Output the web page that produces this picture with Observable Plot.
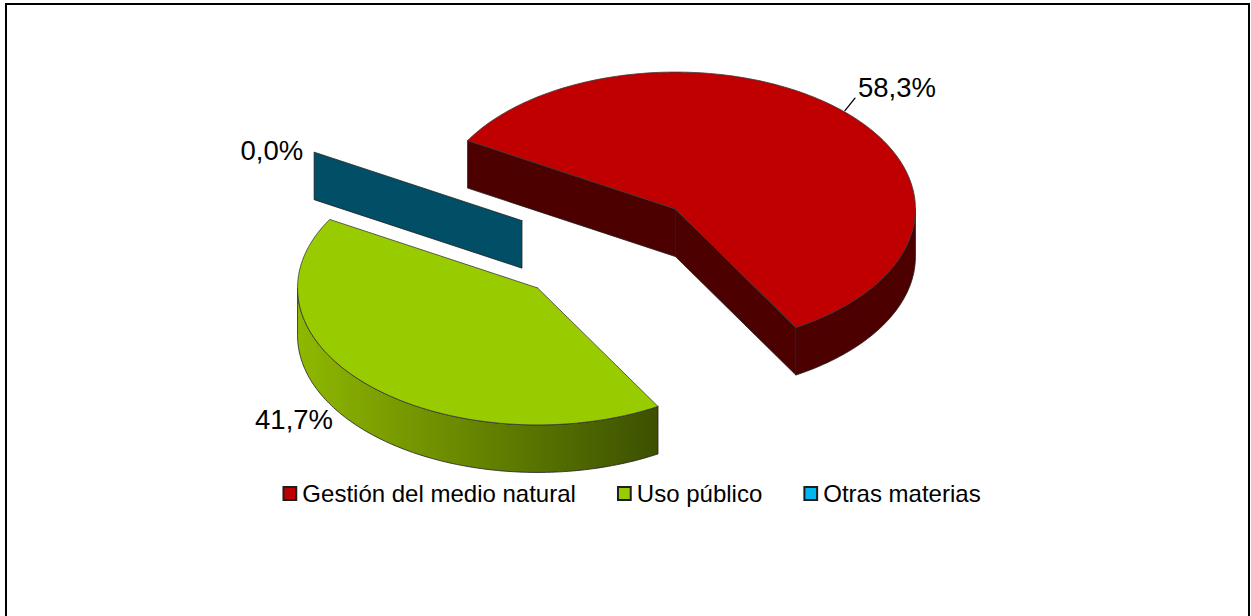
<!DOCTYPE html>
<html><head><meta charset="utf-8">
<script src="https://cdn.jsdelivr.net/npm/d3@7"></script>
<script src="https://cdn.jsdelivr.net/npm/@observablehq/plot@0.6"></script>
<style>
html,body{margin:0;padding:0;background:#fff;}
#wrap{position:relative;width:1251px;height:616px;overflow:hidden;background:#fff;}
#chart{position:absolute;left:0;top:0;}
#frame{position:absolute;left:5px;top:3px;width:1241px;height:660px;border:2px solid #000;pointer-events:none;}
</style></head><body>
<div id="wrap"><div id="chart"></div><div id="frame"></div></div>
<script>
// ---- data ----
const categories = ["Gestión del medio natural", "Uso público", "Otras materias"];
const values = [58.3, 41.7, 0.0];
const topColors = ["#c00000", "#99cc00", "#00b0f0"];
const wallShades = [["#4d0000", "#4d0000"], ["#8fb800", "#3c5000"], ["#004f66", "#004f66"]];
const legendColors = ["#c00000", "#99cc00", "#00b8f0"];

// ---- layout ----
const W = 1251, H = 616;
const cx = 606, cy = 248, R = 240, ry = 137, depth = 47.5, explode = 97.6, startAngle = 150;
const edgeColor = "#1e1e1e";
const rad = d => d * Math.PI / 180;
function proj(thetaDeg, rho, h, phiDeg) {
  const t = rad(thetaDeg), p = rad(phiDeg);
  return [cx + R * rho * Math.cos(t) + explode * Math.cos(p),
          cy - ry * rho * Math.sin(t) - explode * (ry / R) * Math.sin(p) + h];
}
function arcAngles(from, to, step = 1) {
  const n = Math.max(1, Math.ceil(Math.abs(from - to) / step));
  return d3.range(n + 1).map(k => from + (to - from) * k / n);
}

let acc = startAngle;
const slices = values.map((v, i) => {
  const span = v / 100 * 360;
  const a0 = acc, a1 = acc - span;
  acc = a1;
  return {i, a0, a1, span, phi: (a0 + a1) / 2};
});

// painter order: back (higher on screen) first
const order = slices.slice().sort((a, b) => Math.sin(rad(b.phi)) - Math.sin(rad(a.phi)));

const polyPoints = [];
let pid = 0;
function addPoly(pts, fill, stroke) {
  const id = pid++;
  pts.forEach(([x, y]) => polyPoints.push({id, x, y, fill, stroke}));
}
function frontRuns(a0, a1) {
  const runs = [];
  for (let k = -2; k <= 2; k++) {
    const lo = Math.max(a1, -180 + 360 * k), hi = Math.min(a0, 360 * k);
    if (hi - lo > 1e-6) runs.push([hi, lo]);
  }
  return runs;
}

const gradients = [];
for (const s of order) {
  const [c0, c1] = wallShades[s.i];
  const apexT = proj(0, 0, 0, s.phi), apexB = proj(0, 0, depth, s.phi);
  if (Math.sin(rad(s.a0 + 90)) < 0) {
    const pT = proj(s.a0, 1, 0, s.phi), pB = proj(s.a0, 1, depth, s.phi);
    addPoly([apexT, pT, pB, apexB, apexT], c0, edgeColor);
  }
  if (s.span > 0.01 && Math.sin(rad(s.a1 - 90)) < 0) {
    const pT = proj(s.a1, 1, 0, s.phi), pB = proj(s.a1, 1, depth, s.phi);
    addPoly([apexT, pT, pB, apexB, apexT], c0, edgeColor);
  }
  for (const [hi, lo] of frontRuns(s.a0, s.a1)) {
    const angs = arcAngles(hi, lo, 1);
    const top = angs.map(a => proj(a, 1, 0, s.phi));
    const bot = angs.map(a => proj(a, 1, depth, s.phi)).reverse();
    let fill = c0;
    if (c0 !== c1) {
      const gid = `wallGrad${s.i}_${gradients.length}`;
      gradients.push({id: gid, c0, c1});
      fill = `url(#${gid})`;
    }
    addPoly([...top, ...bot, top[0]], fill, edgeColor);
  }
  if (s.span > 0.01) {
    const arc = arcAngles(s.a0, s.a1, 1).map(a => proj(a, 1, 0, s.phi));
    addPoly([apexT, ...arc, apexT], topColors[s.i], "#3a3a3a");
  }
}

// gradient definitions (left-to-right shading of the side walls)
function gradientDefs() {
  const ns = "http://www.w3.org/2000/svg";
  const defs = document.createElementNS(ns, "defs");
  for (const g of gradients) {
    const lg = document.createElementNS(ns, "linearGradient");
    lg.setAttribute("id", g.id);
    lg.setAttribute("x1", "0"); lg.setAttribute("x2", "1");
    lg.setAttribute("y1", "0"); lg.setAttribute("y2", "0");
    [[0, g.c0], [1, g.c1]].forEach(([o, c]) => {
      const st = document.createElementNS(ns, "stop");
      st.setAttribute("offset", o);
      st.setAttribute("stop-color", c);
      lg.appendChild(st);
    });
    defs.appendChild(lg);
  }
  return defs;
}

// ---- data labels ----
const labelOffsets = [[13, -24, "start"], [-35, 35, "end"], [-11, -0.5, "end"]];
const labelRows = slices.map(s => {
  const [x, y] = proj(s.phi, 1, 0, s.phi);
  const [dx, dy, anchor] = labelOffsets[s.i];
  return {x: x + dx, y: y + dy, anchor, text: values[s.i].toFixed(1).replace(".", ",") + "%", rx: x, ry: y};
});
const leaderPts = [
  {x: labelRows[0].rx, y: labelRows[0].ry - 1.5},
  {x: labelRows[0].rx + 10, y: labelRows[0].ry - 14}
];

// ---- legend ----
const legendFont = 24;
const ctx = document.createElement("canvas").getContext("2d");
ctx.font = `${legendFont}px "Liberation Sans", Arial, sans-serif`;
const widths = categories.map(c => ctx.measureText(c).width);
const markerW = 15, markerGap = 5, itemGap = 41, legendCenter = 631, legendY = 493;
const totalW = d3.sum(widths, w => markerW + markerGap + w) + itemGap * (categories.length - 1);
let lx = legendCenter - totalW / 2;
const legendRows = categories.map((name, i) => {
  const row = {name, color: legendColors[i], mx: lx + markerW / 2, tx: lx + markerW + markerGap};
  lx += markerW + markerGap + widths[i] + itemGap;
  return row;
});

const chart = Plot.plot({
  width: W, height: H, margin: 0,
  x: {domain: [0, W], range: [0, W], axis: null},
  y: {domain: [0, H], range: [0, H], axis: null},
  color: {type: "identity"},
  style: {fontFamily: '"Liberation Sans", Arial, sans-serif', background: "transparent", overflow: "visible", color: "#000"},
  marks: [
    gradientDefs,
    Plot.line(polyPoints, {x: "x", y: "y", z: "id", fill: "fill", stroke: "stroke", strokeWidth: 0.8, curve: "linear", strokeLinejoin: "round"}),
    Plot.line(leaderPts, {x: "x", y: "y", stroke: "#000", strokeWidth: 1.3}),
    Plot.text(labelRows.filter(d => d.anchor === "start"), {x: "x", y: "y", text: "text", textAnchor: "start", fontSize: 27.5, fill: "#000"}),
    Plot.text(labelRows.filter(d => d.anchor === "end"), {x: "x", y: "y", text: "text", textAnchor: "end", fontSize: 27.5, fill: "#000"}),
    Plot.dot(legendRows, {x: "mx", y: () => legendY, symbol: "square", r: 7.2, fill: "color", stroke: "#1e1e1e", strokeWidth: 2}),
    Plot.text(legendRows, {x: "tx", y: () => legendY + 1, text: "name", textAnchor: "start", fontSize: legendFont, fill: "#000"})
  ]
});
document.getElementById("chart").appendChild(chart);
</script>
</body></html>
